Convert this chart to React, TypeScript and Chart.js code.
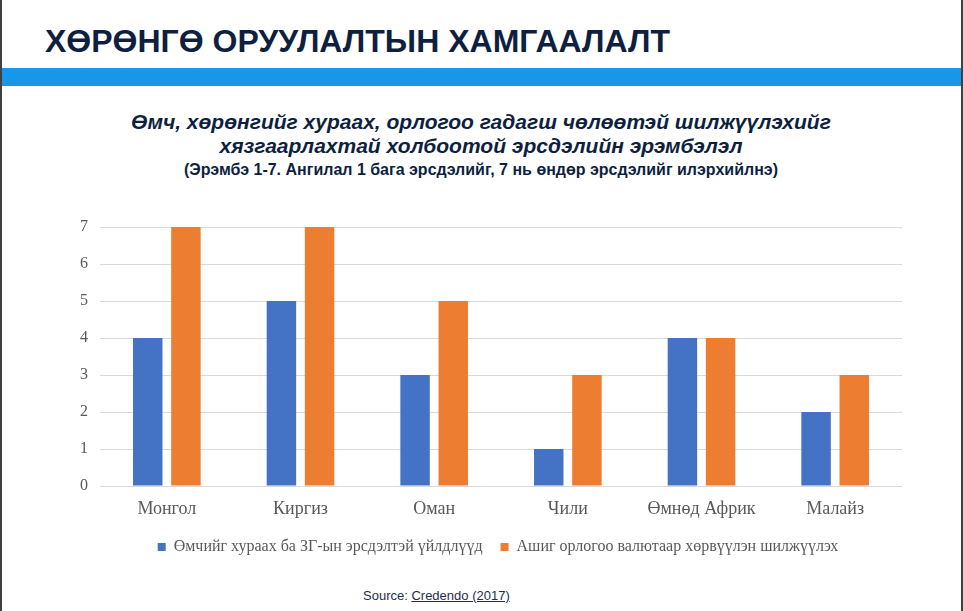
import { useEffect, useRef } from "react";
import { Chart, registerables } from "chart.js";

Chart.register(...registerables);

const categories = ["Монгол", "Киргиз", "Оман", "Чили", "Өмнөд Африк", "Малайз"];
const seizureRisk = [4, 5, 3, 1, 4, 2];
const transferRisk = [7, 7, 5, 3, 4, 3];
const seriesNames = [
  "Өмчийг хураах ба ЗГ-ын эрсдэлтэй үйлдлүүд",
  "Ашиг орлогоо валютаар хөрвүүлэн шилжүүлэх",
];

const serif = '"Liberation Serif", "Times New Roman", serif';
const sans = '"Liberation Sans", Arial, sans-serif';
const navy = "#0e1f3f";

// legend box sits off-centre in the original, nudge its left edge
const legendShift = {
  id: "legendShift",
  afterLayout(chart) {
    if (chart.legend) chart.legend.left = 54;
  },
};

function RiskChart() {
  const canvasRef = useRef(null);
  const chartRef = useRef(null);

  useEffect(() => {
    if (!canvasRef.current) return;
    if (chartRef.current) chartRef.current.destroy();
    chartRef.current = new Chart(canvasRef.current, {
      type: "bar",
      data: {
        labels: categories,
        datasets: [
          {
            label: seriesNames[0],
            data: seizureRisk,
            backgroundColor: "#4472c4",
            categoryPercentage: 0.571,
            barPercentage: 0.772,
          },
          {
            label: seriesNames[1],
            data: transferRisk,
            backgroundColor: "#ed7d31",
            categoryPercentage: 0.571,
            barPercentage: 0.772,
          },
        ],
      },
      options: {
        animation: false,
        responsive: true,
        maintainAspectRatio: false,
        layout: { padding: { top: 27, left: 0, right: 46, bottom: 0 } },
        scales: {
          y: {
            min: 0,
            max: 7,
            afterFit: (scale) => {
              scale.width = 60;
            },
            ticks: {
              stepSize: 1,
              padding: 12,
              color: "#595959",
              font: { family: serif, size: 16 },
            },
            grid: { color: "#d9d9d9", drawTicks: false },
            border: { display: false },
          },
          x: {
            afterFit: (scale) => {
              scale.height = 35;
            },
            ticks: {
              padding: 12,
              color: "#595959",
              font: { family: serif, size: 18 },
            },
            grid: { display: false, drawTicks: false },
            border: { display: false },
          },
        },
        plugins: {
          legend: {
            position: "bottom",
            labels: {
              boxWidth: 8,
              boxHeight: 8,
              padding: 18,
              color: "#595959",
              font: { family: serif, size: 16 },
            },
          },
          tooltip: { enabled: false },
        },
      },
      plugins: [legendShift],
    });
    return () => {
      if (chartRef.current) {
        chartRef.current.destroy();
        chartRef.current = null;
      }
    };
  }, []);

  return (
    <div style={{ position: "absolute", left: 40, top: 200, width: 908, height: 365 }}>
      <canvas ref={canvasRef}></canvas>
    </div>
  );
}

export default function App() {
  const line = (top, size, height, italic, text) => (
    <div
      style={{
        position: "absolute",
        left: 0,
        top,
        width: 962,
        textAlign: "center",
        fontFamily: sans,
        fontWeight: "bold",
        fontStyle: italic ? "italic" : "normal",
        fontSize: size,
        lineHeight: height + "px",
        color: navy,
        whiteSpace: "nowrap",
      }}
    >
      {text}
    </div>
  );

  return (
    <div
      style={{
        position: "absolute",
        left: 0,
        top: 0,
        width: 963,
        height: 611,
        background: "#fff",
        overflow: "hidden",
      }}
    >
      <div style={{ position: "absolute", left: 0, top: 0, width: 2, height: 611, background: "#404040" }} />
      <div style={{ position: "absolute", left: 961, top: 0, width: 2, height: 611, background: "#404040" }} />
      <div
        style={{
          position: "absolute",
          left: 45,
          top: 23,
          fontFamily: sans,
          fontWeight: "bold",
          fontSize: 32,
          lineHeight: "36px",
          color: navy,
          whiteSpace: "nowrap",
        }}
      >
        ХӨРӨНГӨ ОРУУЛАЛТЫН ХАМГААЛАЛТ
      </div>
      <div style={{ position: "absolute", left: 2, top: 68, width: 959, height: 18, background: "#1897ea" }} />
      {line(110, 21, 23, true, "Өмч, хөрөнгийг хураах, орлогоо гадагш чөлөөтэй шилжүүлэхийг")}
      {line(134, 21, 23, true, "хязгаарлахтай холбоотой эрсдэлийн эрэмбэлэл")}
      {line(161, 16, 18, false, "(Эрэмбэ 1-7. Ангилал 1 бага эрсдэлийг, 7 нь өндөр эрсдэлийг илэрхийлнэ)")}
      <RiskChart />
      <div
        style={{
          position: "absolute",
          left: 363,
          top: 588,
          fontFamily: sans,
          fontSize: 13,
          lineHeight: "16px",
          color: "#1f2d4a",
          whiteSpace: "nowrap",
        }}
      >
        Source: <span style={{ textDecoration: "underline" }}>Credendo (2017)</span>
      </div>
    </div>
  );
}
